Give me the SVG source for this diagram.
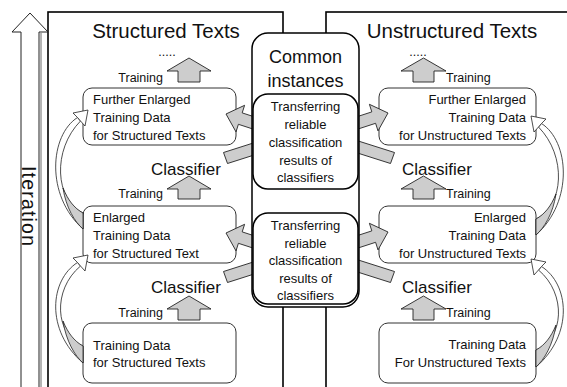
<svg xmlns="http://www.w3.org/2000/svg" width="567" height="387" viewBox="0 0 567 387">
<style>
text{font-family:"Liberation Sans",Arial,sans-serif;fill:#111}
.panel{fill:none;stroke:#000;stroke-width:1.6}
.box{fill:#fff;stroke:#333;stroke-width:1}
.up{fill:#cdcdcd;stroke:#222;stroke-width:0.9}
.tr{fill:#cdcdcd;stroke:#222;stroke-width:0.9}
.cw{fill:#fff;stroke:#222;stroke-width:0.8}
.cg{fill:#cdcdcd;stroke:#222;stroke-width:0.8}
.cen{fill:#fff;stroke:#000;stroke-width:1.5}
.title{font-size:20.5px}
.lbl{font-size:12.5px}
.cls{font-size:17px}
.bt{font-size:13px}
.ct{font-size:13px;text-anchor:middle}
.r{text-anchor:end}
</style>
<defs>
<g id="curveA">
<path class="cw" d="M77.5,117.5 C50,135 45,195 83,229 L83,213 C55,200 52,150 80.5,121 Z"/>
<path class="cg" d="M83,213 C74,208 68,200 63,188 C66,208 75,222 83,229 Z"/>
<polygon class="cw" points="88,110 73,113 77.5,117.5 80.5,121 85,126"/>
</g>
<g id="curveB">
<path class="cw" d="M77.5,262.5 C50,280 45,330 83,363 L83,346 C55,335 52,290 80.5,266 Z"/>
<path class="cg" d="M83,346 C74,341 68,333 63,321 C66,341 75,356 83,363 Z"/>
<polygon class="cw" points="88,255 73,258 77.5,262.5 80.5,266 85,271"/>
</g>
</defs>

<g id="panels">
<rect id="panel-structured" class="panel" x="48" y="12" width="235" height="400"/>
<rect id="panel-unstructured" class="panel" x="326" y="12" width="260" height="400"/>
</g>

<g id="iteration">
<polygon points="30,13 48,32 39,32 39,400 21,400 21,32 12,32" fill="#fff" stroke="#222" stroke-width="1"/>
<line x1="41" y1="33" x2="41" y2="400" stroke="#444" stroke-width="0.8"/>
<text transform="translate(21.5,206) rotate(90)" x="0" y="0" text-anchor="middle" font-size="19.5" textLength="80" lengthAdjust="spacing">Iteration</text>
</g>

<g id="titles">
<text class="title" x="166" y="38" text-anchor="middle">Structured Texts</text>
<text class="title" x="452" y="38" text-anchor="middle">Unstructured Texts</text>
<text class="lbl" x="167" y="56" text-anchor="middle">.....</text>
<text class="lbl" x="418" y="56" text-anchor="middle">.....</text>
</g>

<g id="connectors">
<polygon class="up" points="189,58 211,71 200,71 200,82 178,82 178,71 167,71"/>
<polygon class="up" points="189,176 211,189 200,189 200,199 178,199 178,189 167,189"/>
<polygon class="up" points="189,296 211,309 200,309 200,320 178,320 178,309 167,309"/>
<polygon class="up" points="423.5,58 446,71 434,71 434,82 413,82 413,71 401,71"/>
<polygon class="up" points="423.5,176 446,189 434,189 434,199 413,199 413,189 401,189"/>
<polygon class="up" points="423.5,296 446,309 434,309 434,320 413,320 413,309 401,309"/>
</g>

<g id="labels">
<text class="lbl r" x="163" y="82">Training</text>
<text class="lbl r" x="163" y="198">Training</text>
<text class="lbl r" x="163" y="317">Training</text>
<text class="lbl" x="446" y="82">Training</text>
<text class="lbl" x="446" y="198">Training</text>
<text class="lbl" x="446" y="317">Training</text>
<text class="cls" x="151" y="175">Classifier</text>
<text class="cls" x="151" y="293">Classifier</text>
<text class="cls" x="402" y="175">Classifier</text>
<text class="cls" x="402" y="293">Classifier</text>
</g>

<g id="node-left-1">
<rect class="box" x="83" y="88" width="153" height="57" rx="9"/>
<text class="bt" x="93" y="104">Further Enlarged</text>
<text class="bt" x="93" y="122">Training Data</text>
<text class="bt" x="93" y="140">for Structured Texts</text>
</g>
<g id="node-left-2">
<rect class="box" x="83" y="206" width="153" height="57" rx="9"/>
<text class="bt" x="93" y="222">Enlarged</text>
<text class="bt" x="93" y="240">Training Data</text>
<text class="bt" x="93" y="258">for Structured Text</text>
</g>
<g id="node-left-3">
<rect class="box" x="83" y="323" width="153" height="60" rx="9"/>
<text class="bt" x="93" y="350">Training Data</text>
<text class="bt" x="93" y="367">for Structured Texts</text>
</g>
<g id="node-right-1">
<rect class="box" x="379" y="88" width="157" height="57" rx="9"/>
<text class="bt r" x="526" y="104">Further Enlarged</text>
<text class="bt r" x="526" y="122">Training Data</text>
<text class="bt r" x="526" y="140">for Unstructured Texts</text>
</g>
<g id="node-right-2">
<rect class="box" x="379" y="206" width="157" height="57" rx="9"/>
<text class="bt r" x="526" y="222">Enlarged</text>
<text class="bt r" x="526" y="240">Training Data</text>
<text class="bt r" x="526" y="258">for Unstructured Texts</text>
</g>
<g id="node-right-3">
<rect class="box" x="379" y="323" width="157" height="60" rx="9"/>
<text class="bt r" x="526" y="349">Training Data</text>
<text class="bt r" x="526" y="367">For Unstructured Texts</text>
</g>

<g id="curved-connectors">
<use href="#curveA"/>
<use href="#curveB"/>
<use href="#curveA" transform="translate(619,6) scale(-1,1)"/>
<use href="#curveB" transform="translate(619,4) scale(-1,1)"/>
</g>

<g id="transfer-connectors">
<polygon class="tr" points="226,114 244.6,105.3 242.2,112.9 263.1,119.7 259.3,131.1 238.4,124.3 236,131.9"/>
<polygon class="tr" points="223.5,152.5 227.5,163.5 262,152.5 258,141.5"/>
<polygon class="tr" points="388,113 369.4,104.3 371.8,111.9 350.9,118.7 354.7,130.1 375.6,123.3 378,130.9"/>
<polygon class="tr" points="394.5,152.5 390.5,163.5 348,150 352,139"/>
<polygon class="tr" points="226,233 244.6,224.3 242.2,231.9 263.1,238.7 259.3,250.1 238.4,243.3 236,250.9"/>
<polygon class="tr" points="223.5,271.5 227.5,282.5 262,271.5 258,260.5"/>
<polygon class="tr" points="388,232 369.4,223.3 371.8,230.9 350.9,237.7 354.7,249.1 375.6,242.3 378,249.9"/>
<polygon class="tr" points="394.5,271.5 390.5,282.5 348,269 352,258"/>
</g>

<g id="node-common">
<rect class="cen" x="252" y="33" width="107" height="274" rx="16"/>
<text x="305.5" y="63" font-size="18" text-anchor="middle">Common</text>
<text x="305.5" y="87" font-size="18" text-anchor="middle">instances</text>
</g>
<g id="node-transfer-1">
<rect class="cen" x="253" y="94" width="105" height="95" rx="15"/>
<text class="ct" x="305.5" y="111">Transferring</text>
<text class="ct" x="305.5" y="129">reliable</text>
<text class="ct" x="305.5" y="147">classification</text>
<text class="ct" x="305.5" y="165">results of</text>
<text class="ct" x="305.5" y="182">classifiers</text>
</g>
<g id="node-transfer-2">
<rect class="cen" x="253" y="213" width="105" height="91" rx="15"/>
<text class="ct" x="305.5" y="230">Transferring</text>
<text class="ct" x="305.5" y="247.5">reliable</text>
<text class="ct" x="305.5" y="265">classification</text>
<text class="ct" x="305.5" y="282.5">results of</text>
<text class="ct" x="305.5" y="300">classifiers</text>
</g>
</svg>
